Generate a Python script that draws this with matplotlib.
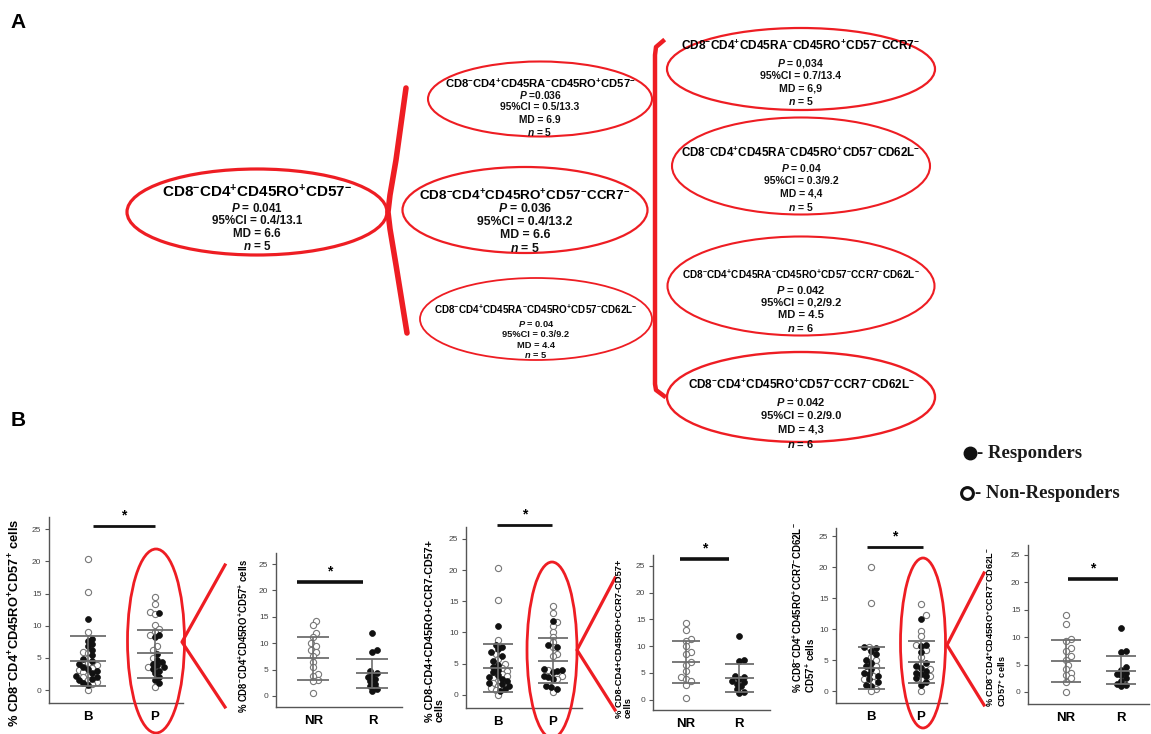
import re
import matplotlib
matplotlib.use('Agg')
import matplotlib.pyplot as plt
from matplotlib.patches import Ellipse
import numpy as np

plt.rcParams['font.family'] = 'Liberation Sans'
plt.rcParams['font.weight'] = 'bold'
plt.rcParams['mathtext.fontset'] = 'custom'
plt.rcParams['mathtext.rm'] = 'Liberation Sans:bold'
plt.rcParams['mathtext.it'] = 'Liberation Sans:italic:bold'
plt.rcParams['mathtext.bf'] = 'Liberation Sans:bold'

W, H = 1151, 734
RED = '#ee1d23'

# ---------------- panel A data ----------------
# phenotype, P, 95%CI, MD, n
node_root = ('CD8-CD4+CD45RO+CD57-', '0.041', '0.4/13.1', '6.6', '5')
nodes_mid = [
    ('CD8-CD4+CD45RA-CD45RO+CD57-', '=0.036', '0.5/13.3', '6.9', '5'),
    ('CD8-CD4+CD45RO+CD57-CCR7-', '0.036', '0.4/13.2', '6.6', '5'),
    ('CD8-CD4+CD45RA-CD45RO+CD57-CD62L-', '0.04', '0.3/9.2', '4.4', '5'),
]
nodes_right = [
    ('CD8-CD4+CD45RA-CD45RO+CD57-CCR7-', '0,034', '0.7/13.4', '6,9', '5'),
    ('CD8-CD4+CD45RA-CD45RO+CD57-CD62L-', '0.04', '0.3/9.2', '4,4', '5'),
    ('CD8-CD4+CD45RA-CD45RO+CD57-CCR7-CD62L-', '0.042', '0,2/9.2', '4.5', '6'),
    ('CD8-CD4+CD45RO+CD57-CCR7-CD62L-', '0.042', '0.2/9.0', '4,3', '6'),
]

# ---------------- panel B data ----------------
pair_labels = [['B', 'P'], ['NR', 'R']]
ylabels = [
    '% CD8-CD4+CD45RO+CD57+ cells',
    '% CD8-CD4+CD45RO+CD57+ cells',
    '% CD8-CD4+CD45RO+CCR7-CD57+\ncells',
    '% CD8-CD4+CD45RO+CCR7-CD57+\ncells',
    '% CD8-CD4+CD45RO+CCR7-CD62L-\nCD57+ cells',
    '% CD8-CD4+CD45RO+CCR7-CD62L-\nCD57+ cells',
]
ylabel_sup = [True, True, False, False, True, True]

# plot 1 : B / P
p1_b_open = [20.3, 15.3, 9.0, 6.0, 5.8, 5.0, 4.2, 3.9, 3.5, 3.1, 2.8, 2.4, 2.0, 1.6, 1.2, 0.9, 0.0]
p1_b_fill = [11.0, 8.0, 7.6, 7.2, 6.8, 6.3, 5.5, 4.8, 4.5, 4.0, 3.6, 3.3, 3.0, 2.6, 2.2, 2.0, 1.8, 1.5, 1.1, 0.8]
p1_p_open = [14.4, 13.4, 12.2, 11.8, 10.1, 9.5, 9.0, 8.6, 6.8, 6.2, 5.0, 3.6, 0.5]
p1_p_fill = [12.0, 8.6, 8.2, 5.6, 4.7, 4.4, 4.1, 3.9, 3.6, 3.3, 3.0, 2.6, 2.0, 1.5, 1.1]
# plot 2 : NR / R
p2_nr = [14.3, 13.5, 12.0, 11.2, 10.0, 9.5, 8.8, 8.3, 7.5, 6.5, 5.5, 4.2, 3.8, 3.0, 2.8, 0.5]
p2_r = [12.0, 8.7, 8.4, 4.8, 4.3, 4.0, 3.6, 3.2, 2.8, 2.3, 1.8, 1.3, 1.0]
# plot 3 : B / P
p3_b_open = [20.3, 15.2, 8.8, 6.5, 5.8, 5.0, 4.3, 3.8, 3.4, 3.0, 2.7, 2.3, 1.9, 1.5, 1.1, 0.8, 0.0]
p3_b_fill = [11.0, 8.0, 7.7, 7.3, 6.8, 6.2, 5.4, 4.8, 4.4, 4.0, 3.6, 3.2, 2.9, 2.6, 2.2, 1.9, 1.7, 1.4, 1.0, 0.7]
p3_p_open = [14.2, 13.1, 11.6, 11.1, 10.1, 9.3, 8.5, 7.6, 6.5, 6.2, 4.0, 3.0, 2.5, 0.5]
p3_p_fill = [11.9, 8.0, 7.7, 4.2, 4.0, 3.9, 3.6, 3.0, 2.8, 2.5, 1.5, 1.2, 1.0]
# plot 4 : NR / R
p4_nr = [14.3, 13.0, 11.3, 11.0, 10.0, 9.0, 8.5, 7.0, 6.5, 5.3, 4.2, 3.8, 3.5, 2.8, 0.4]
p4_r = [11.9, 7.5, 7.3, 4.5, 4.2, 3.9, 3.6, 3.3, 3.0, 2.5, 2.0, 1.5, 1.2]
# plot 5 : B / P
p5_b_open = [20.0, 14.2, 7.2, 5.5, 5.0, 4.0, 3.2, 2.5, 2.0, 1.5, 0.3, 0.0]
p5_b_fill = [7.2, 7.0, 6.5, 6.0, 5.0, 4.5, 4.0, 3.5, 3.0, 2.8, 2.5, 2.0, 1.5, 1.0, 0.8]
p5_p_open = [14.1, 12.3, 9.7, 8.9, 7.4, 6.7, 5.5, 4.5, 3.5, 2.5, 2.0, 0.1]
p5_p_fill = [11.7, 7.5, 7.3, 6.3, 4.5, 4.0, 3.7, 3.3, 3.0, 2.8, 2.5, 2.2, 1.5, 1.0]
# plot 6 : NR / R
p6_nr = [14.0, 12.4, 9.6, 9.3, 8.0, 7.4, 6.5, 5.8, 5.0, 4.2, 3.5, 3.0, 2.5, 1.8, 0.0]
p6_r = [11.7, 7.5, 7.2, 4.5, 4.0, 3.5, 3.3, 3.0, 2.5, 2.0, 1.5, 1.2, 1.0]

# mean, lower, upper (mean +/- SD) per group
p1_stats = [(4.5, 0.7, 8.4), (5.7, 1.9, 9.3)]
p2_stats = [(7.1, 3.1, 11.2), (4.3, 1.5, 7.0)]
p3_stats = [(4.3, 0.5, 8.2), (5.5, 1.9, 9.1)]
p4_stats = [(7.0, 3.1, 11.0), (4.1, 1.5, 6.7)]
p5_stats = [(3.7, 0.3, 7.2), (4.7, 1.4, 8.1)]
p6_stats = [(5.6, 1.9, 9.4), (3.9, 1.4, 6.5)]

# (open, filled) per group, two groups per plot
groups = [
    [(p1_b_open, p1_b_fill), (p1_p_open, p1_p_fill)],
    [(p2_nr, []), ([], p2_r)],
    [(p3_b_open, p3_b_fill), (p3_p_open, p3_p_fill)],
    [(p4_nr, []), ([], p4_r)],
    [(p5_b_open, p5_b_fill), (p5_p_open, p5_p_fill)],
    [(p6_nr, []), ([], p6_r)],
]
stats = [p1_stats, p2_stats, p3_stats, p4_stats, p5_stats, p6_stats]
# significance bar: x from, x to, y
sig_bars = [(1.08, 2.0, 25.5), (0.73, 1.84, 21.6), (0.98, 1.98, 27.2),
            (0.89, 1.80, 26.3), (0.92, 2.04, 23.2), (1.04, 1.93, 20.6)]

# ---------------- layout (pixels) ----------------
# x0, x1, ytop, ybottom, ylim, xlim
boxes = [
    (49, 183, 517, 703, (-2.0, 26.9), (0.42, 2.42)),
    (276, 402, 553, 707, (-2.1, 27.1), (0.37, 2.50)),
    (466, 582, 527, 708, (-2.1, 26.9), (0.42, 2.53)),
    (653, 770, 555, 710, (-1.9, 27.0), (0.38, 2.58)),
    (836, 947, 528, 703, (-1.9, 26.3), (0.30, 2.52)),
    (1028, 1149, 545, 704, (-2.2, 26.8), (0.31, 2.50)),
]
# ylabel: x centre, y, va, target length of the longest line
ylab_pos = [(15, 623, 'center', 209), (243, 636, 'center', 155),
            (435, 722, 'bottom', 182), (624, 718, 'bottom', 158),
            (804, 693, 'bottom', 172), (996, 707, 'bottom', 160)]


def sup(s):
    return re.sub(r'([+-])', r'$^{\1}$', s)


fig = plt.figure(figsize=(W / 100, H / 100), dpi=100)
renderer = fig.canvas.get_renderer()


def fit(t, target, dim='w'):
    bb = t.get_window_extent(renderer)
    cur = bb.width if dim == 'w' else bb.height
    t.set_fontsize(t.get_fontsize() * target / cur)
    return t.get_fontsize()


def swarm(ax, xc, vals, d=4.6):
    vals = np.asarray(vals, float)
    pts = ax.transData.transform(np.column_stack([np.full(len(vals), xc), vals]))
    x0 = pts[0, 0] if len(vals) else 0
    placed = []
    xs = np.zeros(len(vals))
    for i in np.argsort(pts[:, 1]):
        y = pts[i, 1]
        for k in range(60):
            off = ((k + 1) // 2) * d * 0.5 * (1 if k % 2 else -1)
            if all((off - px) ** 2 + (y - py) ** 2 >= d * d for px, py in placed):
                break
        placed.append((off, y))
        xs[i] = ax.transData.inverted().transform((x0 + off, y))[0]
    return xs


axes = []
for k, (x0, x1, yt, yb, ylim, xlim) in enumerate(boxes):
    ax = fig.add_axes([x0 / W, 1 - yb / H, (x1 - x0) / W, (yb - yt) / H])
    ax.set_xlim(*xlim)
    ax.set_ylim(*ylim)
    for s in ['top', 'right']:
        ax.spines[s].set_visible(False)
    for s in ['left', 'bottom']:
        ax.spines[s].set_color('#555555')
        ax.spines[s].set_linewidth(1.0)
    ax.set_yticks([0, 5, 10, 15, 20, 25])
    ax.tick_params(axis='y', labelsize=6, colors='#555555', labelcolor='#444444',
                   length=3, width=0.8, pad=2.5)
    for lab in ax.get_yticklabels():
        lab.set_fontweight('normal')
    ax.set_xticks([1, 2])
    ax.set_xticklabels(pair_labels[k % 2], fontsize=9.5, fontweight='bold')
    ax.tick_params(axis='x', length=0, pad=6)

    for g, (op, fi) in enumerate(groups[k]):
        xc = g + 1
        allv = list(op) + list(fi)
        xs = swarm(ax, xc, allv)
        n_op = len(op)
        if n_op:
            ax.scatter(xs[:n_op], op, s=20, facecolor='white', edgecolor='#777777',
                       linewidth=0.8, zorder=3)
        if len(fi):
            ax.scatter(xs[n_op:], fi, s=18, facecolor='#111111', edgecolor='#111111',
                       linewidth=0.5, zorder=3)
        m, lo, hi = stats[k][g]
        hw = 0.27
        ax.hlines([m, lo, hi], xc - hw, xc + hw, color='#6e6e6e', lw=1.3, zorder=4)
        ax.vlines(xc, lo, hi, color='#6e6e6e', lw=1.2, zorder=4)

    sx0, sx1, sy = sig_bars[k]
    lw = 2.6 if k % 2 else 2.0
    ax.plot([sx0, sx1], [sy, sy], color='#111111', lw=lw, clip_on=False, zorder=5,
            solid_capstyle='butt')
    ax.text((sx0 + sx1) / 2, sy + 0.6, '*', ha='center', va='bottom', fontsize=10,
            fontweight='bold', clip_on=False)
    axes.append(ax)

# ---------------- overlay ----------------
ov = fig.add_axes([0, 0, 1, 1], zorder=10)
ov.set_xlim(0, W)
ov.set_ylim(H, 0)
ov.axis('off')

ov.text(18, 22, 'A', fontsize=15, fontweight='bold', ha='center', va='center')
ov.text(18, 420, 'B', fontsize=15, fontweight='bold', ha='center', va='center')

# ellipse layout: cx, cy, w, h, lw, title y, stats y0, dy, title width, CI width
node_layout = [
    (257, 212, 260, 86, 2.3, 192, 208, 13.0, 190, 90),
    (540, 99, 224, 75, 1.5, 83, 95, 12.3, 190, 80),
    (525, 210, 245, 86, 1.6, 196, 209, 13.0, 211, 96),
    (536, 319, 232, 82, 1.3, 309, 324, 10.5, 203, 67),
    (801, 69, 268, 82, 1.6, 46, 63, 12.7, 239, 82),
    (801, 166, 258, 97, 1.5, 153, 168, 13.0, 240, 75),
    (801, 286, 267, 99, 1.5, 274, 290, 12.7, 238, 80),
    (801, 397, 268, 90, 1.7, 385, 402, 14.0, 227, 80),
]
all_nodes = [node_root] + nodes_mid + nodes_right
for (name, p, ci, md, n), (cx, cy, w, h, lw, ty, sy0, dy, tw, cw) in zip(all_nodes, node_layout):
    ov.add_patch(Ellipse((cx, cy), w, h, fill=False, edgecolor=RED, lw=lw))
    t = ov.text(cx, ty, sup(name), ha='center', va='center', fontsize=9, fontweight='bold')
    fit(t, tw)
    p_txt = r'$\mathit{P}$ ' + (p if p.startswith('=') else '= ' + p)
    lines = [p_txt, '95%CI = ' + ci, 'MD = ' + md, r'$\mathit{n}$ = ' + n]
    ts = [ov.text(cx, sy0 + i * dy, s, ha='center', va='center', fontsize=7,
                  fontweight='bold', color='#111111') for i, s in enumerate(lines)]
    fs = fit(ts[1], cw)
    for tt in ts:
        tt.set_fontsize(fs)

# brackets
ov.plot([406, 396, 390, 388, 390, 396, 407], [88, 160, 195, 212, 229, 265, 333], color=RED,
        lw=4.0, solid_joinstyle='round', solid_capstyle='round')
ov.plot([663, 656, 655, 655, 656, 664], [41, 47, 55, 384, 390, 396], color=RED, lw=3.2,
        solid_joinstyle='round')

# zoom connectors in panel B
for (ax_, ay), (bx, by0, by1), (ex, ey, ew, eh) in [
        ((182, 642), (225, 565, 707), (156, 641, 57, 184)),
        ((577, 650), (615, 578, 710), (552, 650, 50, 176)),
        ((947, 645), (984, 573, 705), (923, 643, 45, 170))]:
    ov.plot([bx, ax_, bx], [by0, ay, by1], color=RED, lw=2.3)
    ov.add_patch(Ellipse((ex, ey), ew, eh, fill=False, edgecolor=RED, lw=2.0))

# y labels
for k, (lx, ly, va, tl) in enumerate(ylab_pos):
    s = sup(ylabels[k]) if ylabel_sup[k] else ylabels[k]
    first = s.split('\n')[0]
    probe = ov.text(lx, ly, first, rotation=90, fontsize=7, fontweight='bold')
    fs = fit(probe, tl, 'h')
    probe.remove()
    ov.text(lx, ly, s, rotation=90, ha='center', va=va, fontsize=fs, fontweight='bold',
            multialignment='left', linespacing=1.0)

# legend
ov.plot([970], [453], 'o', ms=9, color='#111111')
ov.plot([967], [493], 'o', ms=8.5, mfc='white', mec='#111111', mew=2.2)
ov.text(977, 453, '- Responders', fontfamily='Liberation Serif', fontsize=13.5,
        fontweight='bold', va='center', ha='left', color='#1a1a1a')
ov.text(975, 493, '- Non-Responders', fontfamily='Liberation Serif', fontsize=13.5,
        fontweight='bold', va='center', ha='left', color='#1a1a1a')

fig.savefig('out.png', dpi=100)
